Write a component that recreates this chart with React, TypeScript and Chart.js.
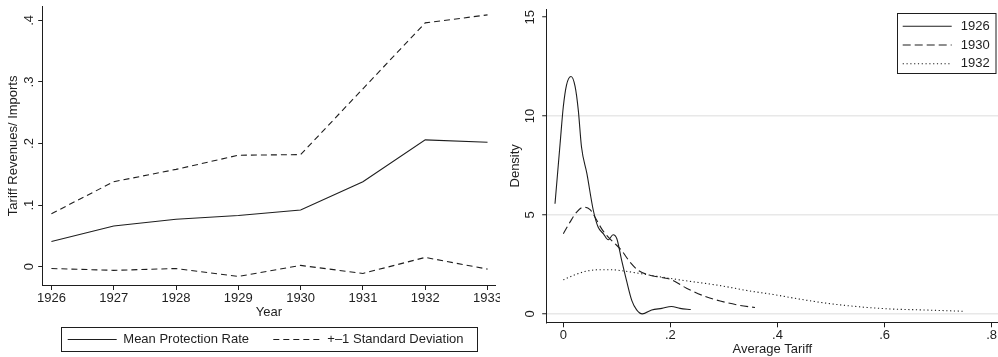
import React, { useEffect, useRef } from 'react';
import { Chart, registerables } from 'chart.js';

Chart.register(...registerables);

// ---------- Data ----------
const years = [1926, 1927, 1928, 1929, 1930, 1931, 1932, 1933];
const meanRate = [0.041, 0.066, 0.077, 0.083, 0.092, 0.138, 0.206, 0.202];
const upperSD = [0.086, 0.138, 0.158, 0.181, 0.182, 0.289, 0.396, 0.409];
const lowerSD = [-0.003, -0.006, -0.003, -0.016, 0.002, -0.011, 0.015, -0.004];
const leftYTicks = [0, 0.1, 0.2, 0.3, 0.4];

const d1926X = [-0.0155, -0.006, 0.0, 0.006, 0.0144, 0.022, 0.028, 0.034, 0.044, 0.056, 0.065, 0.075, 0.084, 0.093, 0.1, 0.109, 0.118, 0.128, 0.137, 0.1475, 0.165, 0.184, 0.202, 0.218, 0.238];
const d1926Y = [5.57, 8.6, 10.47, 11.57, 12.0, 11.5, 10.3, 8.44, 7.1, 5.24, 4.39, 4.05, 3.75, 4.0, 3.8, 2.7, 1.69, 0.67, 0.2, 0.0, 0.2, 0.28, 0.37, 0.28, 0.22];

const d1930X = [0.0, 0.0125, 0.025, 0.0374, 0.05, 0.059, 0.0717, 0.084, 0.0966, 0.109, 0.1245, 0.14, 0.159, 0.184, 0.2, 0.23, 0.268, 0.293, 0.33, 0.358];
const d1930Y = [4.05, 4.64, 5.15, 5.4, 5.27, 4.9, 4.3, 3.88, 3.55, 3.2, 2.62, 2.2, 1.97, 1.84, 1.75, 1.3, 0.85, 0.65, 0.43, 0.32];

const d1932X = [0.0, 0.022, 0.04, 0.065, 0.09, 0.115, 0.146, 0.177, 0.205, 0.243, 0.293, 0.343, 0.392, 0.43, 0.486, 0.548, 0.61, 0.672, 0.75];
const d1932Y = [1.72, 1.98, 2.14, 2.23, 2.23, 2.16, 2.03, 1.89, 1.77, 1.62, 1.43, 1.18, 0.98, 0.8, 0.56, 0.37, 0.25, 0.2, 0.13];

const densityXTicks = [0, 0.2, 0.4, 0.6, 0.8];
const densityYTicks = [0, 5, 10, 15];

const leftLegendLabels = ['Mean Protection Rate', '+\u20131 Standard Deviation'];
const rightLegendLabels = ['1926', '1930', '1932'];

// ---------- Styling ----------
const FONT = '"Liberation Sans", Arial, Helvetica, sans-serif';
const FS = 13;
const INK = '#1e1e1e';
const DASH = [6, 4];
const DASH30 = [8, 4];
const DOT = [1.2, 2.6];

const zip = (xs: number[], ys: number[]) => xs.map((x, i) => ({ x, y: ys[i] }));
const fmtDec = (v: number) => (v === 0 ? '0' : String(+v.toFixed(2)).replace(/^(-?)0\./, '$1.'));

function rotatedYLabels(id: string, x: number, fmt: (v: number) => string) {
  return {
    id,
    afterDraw(chart: any) {
      const s = chart.scales.y;
      const ctx = chart.ctx;
      ctx.save();
      ctx.font = `${FS}px ${FONT}`;
      ctx.fillStyle = INK;
      ctx.textAlign = 'center';
      ctx.textBaseline = 'middle';
      s.ticks.forEach((t: any) => {
        const py = s.getPixelForValue(t.value);
        ctx.save();
        ctx.translate(x, py);
        ctx.rotate(-Math.PI / 2);
        ctx.fillText(fmt(t.value), 0, 0);
        ctx.restore();
      });
      ctx.restore();
    },
  };
}

function sample(ctx: CanvasRenderingContext2D, x1: number, x2: number, y: number, dash: number[]) {
  ctx.save();
  ctx.strokeStyle = INK;
  ctx.lineWidth = 1.1;
  ctx.setLineDash(dash);
  ctx.beginPath();
  ctx.moveTo(x1, y);
  ctx.lineTo(x2, y);
  ctx.stroke();
  ctx.restore();
}

const leftLegend = {
  id: 'leftLegend',
  afterDraw(chart: any) {
    const ctx = chart.ctx as CanvasRenderingContext2D;
    ctx.save();
    ctx.fillStyle = '#fff';
    ctx.fillRect(61.5, 327.5, 416, 24);
    ctx.strokeStyle = INK;
    ctx.lineWidth = 1;
    ctx.strokeRect(61.5, 327.5, 416, 24);
    const y = 339.5;
    sample(ctx, 67.7, 116.7, y, []);
    sample(ctx, 273.3, 323.3, y, DASH);
    ctx.font = `${FS}px ${FONT}`;
    ctx.fillStyle = INK;
    ctx.textAlign = 'left';
    ctx.textBaseline = 'middle';
    ctx.fillText(leftLegendLabels[0], 123.3, y);
    ctx.fillText(leftLegendLabels[1], 327.3, y);
    ctx.restore();
  },
};

const rightLegend = {
  id: 'rightLegend',
  afterDraw(chart: any) {
    const ctx = chart.ctx as CanvasRenderingContext2D;
    ctx.save();
    ctx.fillStyle = '#fff';
    ctx.fillRect(397.5, 13.5, 98.5, 60);
    ctx.strokeStyle = INK;
    ctx.lineWidth = 1;
    ctx.strokeRect(397.5, 13.5, 98.5, 60);
    const rows = [26.3, 45, 63.7];
    const dashes = [[], DASH30, DOT];
    ctx.font = `${FS}px ${FONT}`;
    ctx.fillStyle = INK;
    ctx.textAlign = 'left';
    ctx.textBaseline = 'middle';
    rows.forEach((y, i) => {
      sample(ctx, 402.7, 451.7, y, dashes[i]);
      ctx.fillText(rightLegendLabels[i], 460.7, y);
    });
    ctx.restore();
  },
};

const lineDs = (label: string, data: any[], dash: number[], smooth = false) => ({
  label,
  data,
  borderColor: INK,
  borderWidth: 1.1,
  borderDash: dash,
  pointRadius: 0,
  fill: false,
  tension: smooth ? 0.4 : 0,
  cubicInterpolationMode: smooth ? 'monotone' : 'default',
});

function LeftChart() {
  const ref = useRef<HTMLCanvasElement | null>(null);
  useEffect(() => {
    if (!ref.current) return;
    const chart = new Chart(ref.current, {
      type: 'line',
      data: {
        datasets: [
          lineDs(leftLegendLabels[0], zip(years, meanRate), []),
          lineDs(leftLegendLabels[1], zip(years, upperSD), DASH),
          lineDs('lower', zip(years, lowerSD), DASH),
        ],
      },
      options: {
        animation: false,
        responsive: false,
        events: [],
        layout: { padding: { left: 0, top: 6.7, right: 5, bottom: 37.2 } },
        plugins: { legend: { display: false }, tooltip: { enabled: false } },
        scales: {
          x: {
            type: 'linear',
            min: 1925.86,
            max: 1933.12,
            afterBuildTicks: (s: any) => {
              s.ticks = years.map((v) => ({ value: v }));
            },
            afterFit: (s: any) => {
              s.height = 34.8;
              s.paddingLeft = 0;
              s.paddingRight = 0;
            },
            ticks: {
              callback: (v: any) => String(v),
              font: { family: FONT, size: FS },
              color: INK,
              padding: 1,
              maxRotation: 0,
              autoSkip: false,
            },
            grid: { drawOnChartArea: false, drawTicks: true, tickLength: 5, tickColor: INK, tickWidth: 1 },
            border: { display: true, color: INK, width: 1 },
            title: { display: true, text: 'Year', font: { family: FONT, size: FS }, color: INK, padding: { top: 0, bottom: 0 } },
          },
          y: {
            type: 'linear',
            min: -0.0298,
            max: 0.4223,
            afterBuildTicks: (s: any) => {
              s.ticks = leftYTicks.map((v) => ({ value: v }));
            },
            afterFit: (s: any) => {
              s.width = 42.7;
              s.paddingTop = 0;
              s.paddingBottom = 0;
            },
            ticks: { display: false },
            grid: { drawOnChartArea: false, drawTicks: true, tickLength: 4.5, tickColor: INK, tickWidth: 1 },
            border: { display: true, color: INK, width: 1 },
            title: {
              display: true,
              text: 'Tariff Revenues/ Imports',
              font: { family: FONT, size: FS },
              color: INK,
              padding: { top: 5.5, bottom: 0 },
            },
          },
        },
      } as any,
      plugins: [rotatedYLabels('leftYLabels', 29.3, fmtDec), leftLegend],
    });
    return () => chart.destroy();
  }, []);
  return <canvas ref={ref} width={500} height={357} style={{ position: 'absolute', left: 0, top: 0, width: 500, height: 357 }} />;
}

function RightChart() {
  const ref = useRef<HTMLCanvasElement | null>(null);
  useEffect(() => {
    if (!ref.current) return;
    const chart = new Chart(ref.current, {
      type: 'line',
      data: {
        datasets: [
          lineDs('1926', zip(d1926X, d1926Y), [], true),
          lineDs('1930', zip(d1930X, d1930Y), DASH30, true),
          lineDs('1932', zip(d1932X, d1932Y), DOT, true),
        ],
      },
      options: {
        animation: false,
        responsive: false,
        events: [],
        layout: { padding: { left: 0, top: 9.3, right: 0, bottom: 0 } },
        plugins: { legend: { display: false }, tooltip: { enabled: false } },
        scales: {
          x: {
            type: 'linear',
            min: -0.031,
            max: 0.8118,
            afterBuildTicks: (s: any) => {
              s.ticks = densityXTicks.map((v) => ({ value: v }));
            },
            afterFit: (s: any) => {
              s.height = 34.7;
              s.paddingLeft = 0;
              s.paddingRight = 0;
            },
            ticks: {
              callback: (v: any) => fmtDec(Number(v)),
              font: { family: FONT, size: FS },
              color: INK,
              padding: 0,
              maxRotation: 0,
              autoSkip: false,
            },
            grid: { drawOnChartArea: false, drawTicks: true, tickLength: 5, tickColor: INK, tickWidth: 1 },
            border: { display: true, color: INK, width: 1 },
            title: { display: true, text: 'Average Tariff', font: { family: FONT, size: FS }, color: INK, padding: { top: 0, bottom: 0 } },
          },
          y: {
            type: 'linear',
            min: -0.4255,
            max: 15.4,
            afterBuildTicks: (s: any) => {
              s.ticks = densityYTicks.map((v) => ({ value: v }));
            },
            afterFit: (s: any) => {
              s.width = 46.7;
              s.paddingTop = 0;
              s.paddingBottom = 0;
            },
            ticks: { display: false },
            grid: {
              drawOnChartArea: true,
              drawTicks: true,
              tickLength: 4.5,
              tickColor: INK,
              tickWidth: 1,
              lineWidth: 1.5,
              color: (c: any) => (c.tick && c.tick.value === 15 ? 'rgba(0,0,0,0)' : '#e8e8e8'),
            },
            border: { display: true, color: INK, width: 1 },
            title: {
              display: true,
              text: 'Density',
              font: { family: FONT, size: FS },
              color: INK,
              padding: { top: 7.9, bottom: 0 },
            },
          },
        },
      } as any,
      plugins: [rotatedYLabels('rightYLabels', 30, (v) => String(v)), rightLegend],
    });
    return () => chart.destroy();
  }, []);
  return <canvas ref={ref} width={498} height={357} style={{ position: 'absolute', left: 500, top: 0, width: 498, height: 357 }} />;
}

export default function App() {
  return (
    <div style={{ position: 'absolute', left: 0, top: 0, width: 998, height: 357, background: '#fff', overflow: 'hidden' }}>
      <LeftChart />
      <RightChart />
    </div>
  );
}
